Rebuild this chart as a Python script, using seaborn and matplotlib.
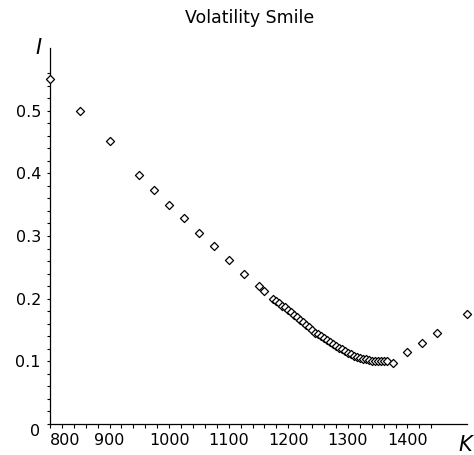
import numpy as np
import pandas as pd
import seaborn as sns
import matplotlib.pyplot as plt
from matplotlib.ticker import FixedLocator

# data (strike K vs implied volatility I)
strike = [800, 850, 900, 950, 975, 1000, 1025, 1050, 1075, 1100, 1125, 1150,
          1160, 1175, 1180, 1185, 1190, 1195, 1200, 1205, 1210, 1215, 1220,
          1225, 1230, 1235, 1240, 1245, 1250, 1255, 1260, 1265, 1270, 1275,
          1280, 1285, 1290, 1295, 1300, 1305, 1310, 1315, 1320, 1325, 1330,
          1335, 1340, 1345, 1350, 1355, 1360, 1365, 1375, 1400, 1425, 1450,
          1500]
impl_vol = [0.551, 0.500, 0.451, 0.398, 0.374, 0.350, 0.328, 0.305, 0.284,
            0.262, 0.240, 0.220, 0.212, 0.200, 0.196, 0.193, 0.189, 0.186,
            0.182, 0.178, 0.174, 0.170, 0.166, 0.162, 0.158, 0.154, 0.150,
            0.146, 0.143, 0.140, 0.137, 0.134, 0.131, 0.128, 0.125, 0.122,
            0.119, 0.116, 0.113, 0.111, 0.109, 0.107, 0.105, 0.104, 0.103,
            0.102, 0.101, 0.101, 0.100, 0.100, 0.100, 0.100, 0.098, 0.115,
            0.130, 0.146, 0.176]

x_ticks = [800, 900, 1000, 1100, 1200, 1300, 1400]
y_ticks = [0.1, 0.2, 0.3, 0.4, 0.5]

df = pd.DataFrame({"K": strike, "I": impl_vol})

sns.set_style("white")
plt.rcParams['font.family'] = ['DejaVu Sans']
plt.rcParams['text.color'] = 'black'

W, H = 474, 455
fig = plt.figure(figsize=(W / 100, H / 100), dpi=100)
ax = fig.add_axes([50 / W, 31 / H, 417 / W, 376 / H])

sns.scatterplot(data=df, x="K", y="I", marker="D", s=17, color="white",
                edgecolor="black", linewidth=0.9, clip_on=False, zorder=3, ax=ax)

ax.set_xlim(800, 1500)
ax.set_ylim(0, 0.6)
ax.set_xlabel("")
ax.set_ylabel("")

for side in ["top", "right"]:
    ax.spines[side].set_visible(False)
for side in ["left", "bottom"]:
    ax.spines[side].set_linewidth(0.9)
    ax.spines[side].set_color("black")

ax.xaxis.set_major_locator(FixedLocator(x_ticks))
ax.xaxis.set_minor_locator(FixedLocator(list(range(800, 1441, 20))))
ax.yaxis.set_major_locator(FixedLocator(y_ticks))
ax.yaxis.set_minor_locator(FixedLocator([i * 0.02 for i in range(0, 29)]))
ax.set_xticklabels([str(t) for t in x_ticks])
ax.set_yticklabels([f"{t:.1f}" for t in y_ticks])

ax.tick_params(axis="x", which="both", bottom=True, direction="out", length=3,
               width=0.8, color="black", labelcolor="black", pad=3.5,
               labelsize=11.5)
ax.tick_params(axis="y", which="both", left=True, direction="out", length=2.5,
               width=0.8, color="black", labelcolor="black", pad=4,
               labelsize=11.5)
ax.get_xticklabels()[0].set_ha("left")

fig.text(35 / W, 1 - 432 / H, "0", ha="center", va="center", fontsize=11.5)
fig.text(38 / W, 1 - 48 / H, "I", ha="center", va="center", fontsize=15,
         style="italic")
fig.text(465 / W, 1 - 445 / H, "K", ha="center", va="center", fontsize=15,
         style="italic")
fig.text(250 / W, 1 - 18 / H, "Volatility Smile", ha="center", va="center",
         fontsize=12.5)

fig.savefig("out.png", dpi=100)
